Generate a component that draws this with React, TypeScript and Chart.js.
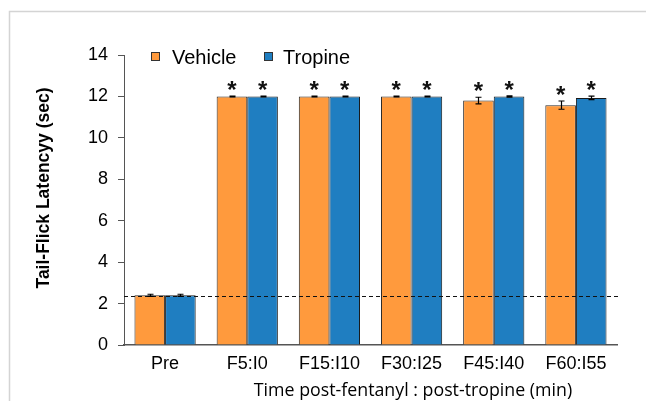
import React, { useEffect, useRef } from "react";
import { Chart, registerables } from "chart.js";

Chart.register(...registerables);

const categories = ["Pre", "F5:I0", "F15:I10", "F30:I25", "F45:I40", "F60:I55"];
const vehicleValues = [2.4, 12, 12, 12, 11.8, 11.58];
const vehicleErrors = [0.05, 0.02, 0.02, 0.02, 0.16, 0.2];
const tropineValues = [2.4, 12, 12, 12, 12, 11.93];
const tropineErrors = [0.05, 0.02, 0.02, 0.02, 0.03, 0.08];
const vehicleStars = [false, true, true, true, true, true];
const tropineStars = [false, true, true, true, true, true];
const baselineValue = 2.35;
const seriesNames = ["Vehicle", "Tropine"];
const yMin = 0;
const yMax = 14;
const yStep = 2;
const yTitle = "Tail-Flick Latencyy (sec)";
const xTitle = "Time post-fentanyl : post-tropine (min)";

const ORANGE = "#FF9A3D";
const BLUE = "#1F7EC1";
const SANS = "'Liberation Sans', Arial, sans-serif";

const errors = [vehicleErrors, tropineErrors];
const stars = [vehicleStars, tropineStars];

const extrasPlugin = {
  id: "extras",
  beforeDraw(chart: any) {
    const { ctx, width, height } = chart;
    ctx.save();
    ctx.strokeStyle = "#d4d4d4";
    ctx.lineWidth = 1.5;
    ctx.beginPath();
    ctx.moveTo(9.5, height);
    ctx.lineTo(9.5, 11.5);
    ctx.lineTo(width, 11.5);
    ctx.stroke();
    ctx.restore();
  },
  afterDatasetsDraw(chart: any) {
    const { ctx, chartArea } = chart;
    const y = chart.scales.y;
    ctx.save();
    // dashed baseline
    const by = Math.round(y.getPixelForValue(baselineValue)) + 0.5;
    ctx.strokeStyle = "#111";
    ctx.lineWidth = 1;
    ctx.setLineDash([4, 3]);
    ctx.beginPath();
    ctx.moveTo(chartArea.left, by);
    ctx.lineTo(chartArea.right + 2, by);
    ctx.stroke();
    ctx.setLineDash([]);
    // error bars and stars
    chart.data.datasets.forEach((ds: any, i: number) => {
      const meta = chart.getDatasetMeta(i);
      meta.data.forEach((el: any, j: number) => {
        const v = ds.data[j];
        const e = errors[i][j];
        const x = Math.round(el.x) + 0.5;
        const yt = y.getPixelForValue(v + e);
        const yb = y.getPixelForValue(v - e);
        ctx.strokeStyle = "#000";
        ctx.lineWidth = 1.2;
        ctx.beginPath();
        ctx.moveTo(x, yt);
        ctx.lineTo(x, yb);
        ctx.moveTo(x - 3, yt);
        ctx.lineTo(x + 3, yt);
        ctx.moveTo(x - 3, yb);
        ctx.lineTo(x + 3, yb);
        ctx.stroke();
        if (stars[i][j]) {
          ctx.fillStyle = "#111";
          ctx.font = `bold 24px ${SANS}`;
          ctx.textAlign = "center";
          ctx.textBaseline = "alphabetic";
          ctx.fillText("*", el.x, yt + 2);
        }
      });
    });
    ctx.restore();
  },
  afterDraw(chart: any) {
    const { ctx } = chart;
    ctx.save();
    // legend
    const items = [
      { name: seriesNames[0], color: ORANGE, box: 151, text: 172 },
      { name: seriesNames[1], color: BLUE, box: 264, text: 283 },
    ];
    items.forEach((it) => {
      ctx.fillStyle = it.color;
      ctx.fillRect(it.box, 52, 9, 9);
      ctx.strokeStyle = "#333";
      ctx.lineWidth = 1;
      ctx.strokeRect(it.box + 0.5, 52.5, 8, 8);
      ctx.fillStyle = "#000";
      ctx.font = `20px ${SANS}`;
      ctx.textAlign = "left";
      ctx.textBaseline = "alphabetic";
      ctx.fillText(it.name, it.text, 64);
    });
    // y title
    ctx.save();
    ctx.translate(44, 188);
    ctx.rotate(-Math.PI / 2);
    ctx.font = `bold 17.5px ${SANS}`;
    ctx.textAlign = "center";
    ctx.textBaseline = "middle";
    ctx.fillStyle = "#000";
    ctx.fillText(yTitle, 0, 0);
    ctx.restore();
    // x title
    ctx.font = `17.8px 'Open Sans', Lato, sans-serif`;
    ctx.textAlign = "center";
    ctx.textBaseline = "middle";
    ctx.fillStyle = "#000";
    ctx.fillText(xTitle, 413, 391);
    ctx.restore();
  },
};

export default function App() {
  const ref = useRef<HTMLCanvasElement>(null);
  useEffect(() => {
    if (!ref.current) return;
    const chart = new Chart(ref.current, {
      type: "bar",
      data: {
        labels: categories,
        datasets: [
          {
            label: seriesNames[0],
            data: vehicleValues,
            backgroundColor: ORANGE,
            borderColor: "#2a2a2a",
            borderWidth: 1,
            barPercentage: 1,
            categoryPercentage: 0.745,
          },
          {
            label: seriesNames[1],
            data: tropineValues,
            backgroundColor: BLUE,
            borderColor: "#1a1a1a",
            borderWidth: 1,
            barPercentage: 1,
            categoryPercentage: 0.745,
          },
        ],
      },
      options: {
        animation: false,
        responsive: false,
        devicePixelRatio: 1,
        layout: { padding: { top: 55, right: 29, left: 0, bottom: 0 } },
        plugins: { legend: { display: false }, tooltip: { enabled: false } },
        scales: {
          x: {
            grid: { display: false, drawTicks: false },
            border: { display: true, color: "#555", width: 1.5 },
            ticks: { color: "#000", font: { family: SANS, size: 18 }, padding: 8 },
            afterFit: (s: any) => {
              s.height = 56;
            },
          },
          y: {
            min: yMin,
            max: yMax,
            ticks: { stepSize: yStep, color: "#000", font: { family: SANS, size: 18 }, padding: 10 },
            grid: { drawOnChartArea: false, drawTicks: true, tickLength: 6, color: "#555" },
            border: { display: true, color: "#555", width: 1 },
            afterFit: (s: any) => {
              s.width = 124;
            },
          },
        },
      },
      plugins: [extrasPlugin],
    });
    return () => chart.destroy();
  }, []);
  return (
    <div style={{ position: "absolute", left: 0, top: 0, width: 646, height: 401, background: "#fff" }}>
      <canvas ref={ref} width={646} height={401} style={{ display: "block" }} />
    </div>
  );
}
